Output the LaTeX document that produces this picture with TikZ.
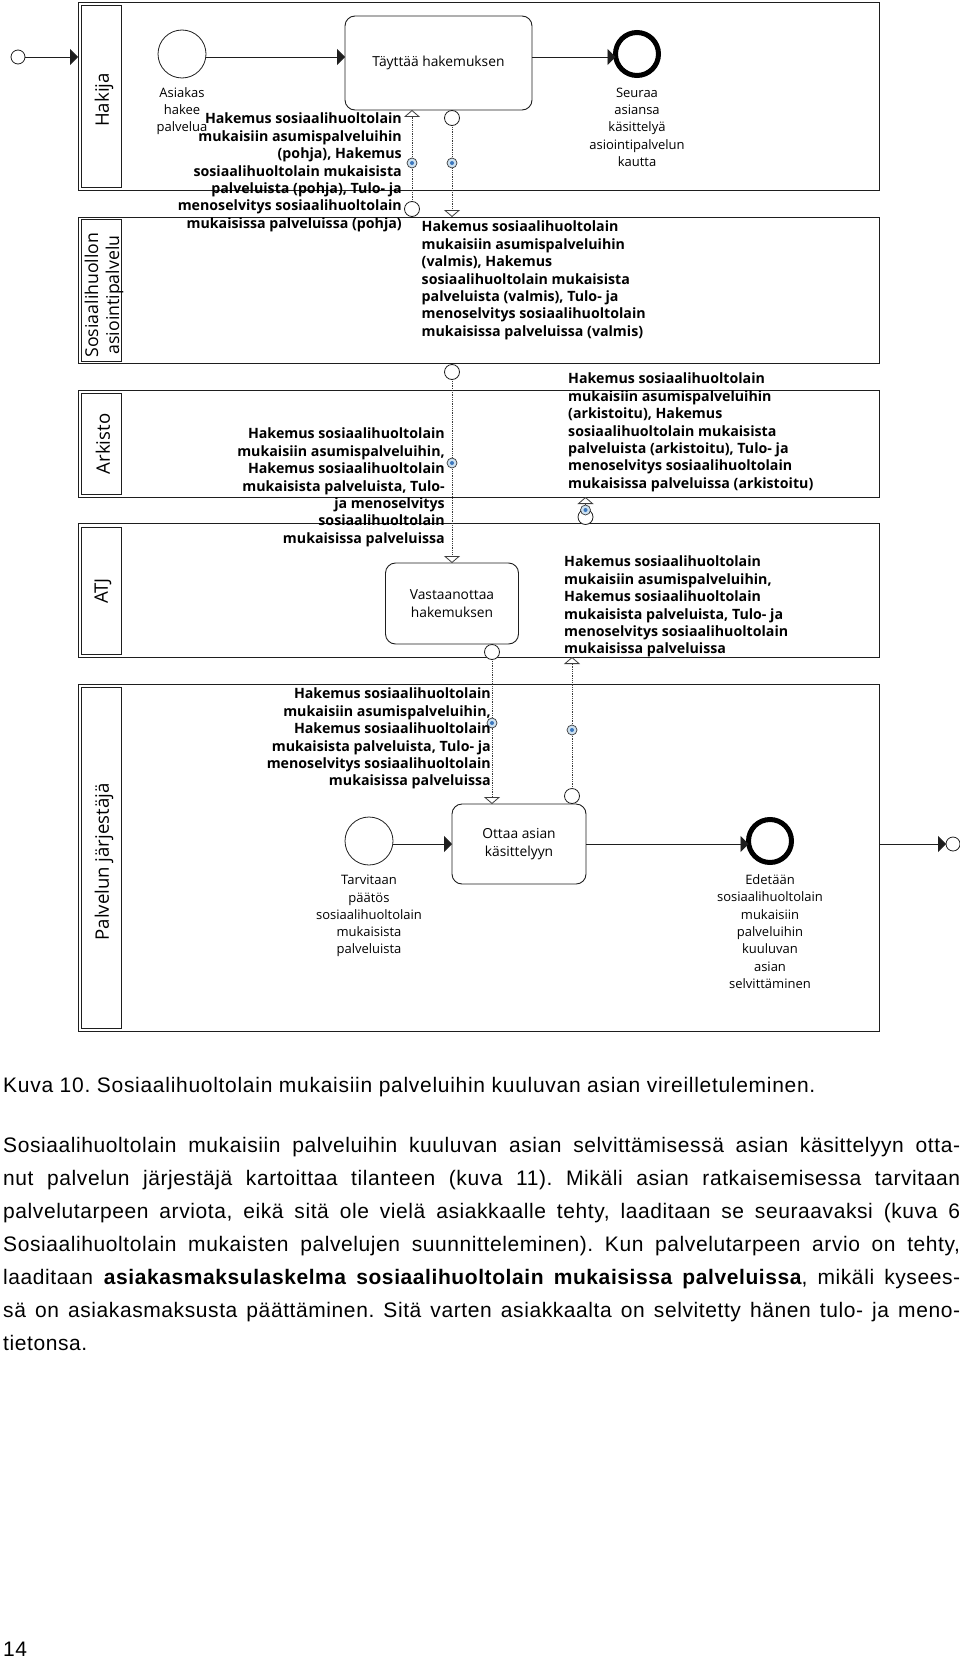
\documentclass[tikz,border=0pt]{standalone}
\usepackage{fontspec}
\setmainfont{Liberation Sans}[LetterSpace=2.8]
\newfontfamily\bpmnfont{Open Sans}
\usetikzlibrary{arrows.meta, positioning, calc}
\definecolor{mydark}{RGB}{30,30,30}
\definecolor{myline}{RGB}{60,60,60}
\definecolor{decofill}{RGB}{205,225,240}
\definecolor{decodot}{RGB}{60,120,190}
\tikzset{
  pool/.style={rectangle, draw=mydark, line width=1pt, minimum width=801pt, outer sep=0pt, inner sep=0pt},
  lane/.style={rectangle, draw=mydark, line width=1pt, minimum width=40pt, outer sep=0pt, inner sep=0pt},
  lanetext/.style={rotate=90, align=center, font=\bpmnfont\fontsize{18.6}{21}\selectfont, inner sep=0pt},
  task/.style={rectangle, draw=mydark, fill=white, rounded corners=10pt, line width=0.9pt, outer sep=0pt, align=center,
    font=\bpmnfont\fontsize{13.8}{17.3}\selectfont},
  startev/.style={circle, draw=mydark, fill=white, minimum size=48pt, line width=0.8pt, inner sep=0pt, outer sep=0pt},
  endev/.style={circle, draw=black, fill=white, minimum size=43pt, line width=5pt, inner sep=0pt, outer sep=0pt},
  port/.style={circle, draw=mydark, fill=white, minimum size=15pt, line width=0.8pt, inner sep=0pt, outer sep=0pt},
  deco/.style={circle, draw=myline, fill=decofill, minimum size=10pt, line width=0.7pt, inner sep=0pt, outer sep=0pt,
    path picture={\fill[decodot] (path picture bounding box.center) circle (2pt);}},
  evtext/.style={align=center, inner sep=0pt, font=\bpmnfont\fontsize{13}{17.3}\selectfont},
  msgtext/.style={inner sep=0pt, font=\bpmnfont\bfseries\fontsize{14.2}{17.4}\selectfont},
  pagetext/.style={inner sep=0pt, font=\fontsize{21}{33}\selectfont\frenchspacing},
  arrow/.style={-{Triangle[length=8pt,width=16pt]}, line width=0.9pt, color=mydark},
  msgflow/.style={-{Triangle[open,fill=white,length=7pt,width=16pt]}, densely dotted, line width=0.8pt, color=myline}
}
\begin{document}
\begin{tikzpicture}[x=1pt, y=-1pt]
  \useasboundingbox (0,0) rectangle (960,1659);

  % Pools
  \node[pool, anchor=north west, minimum height=187pt] (hakija) at (78,3) {};
  \node[pool, minimum height=146pt, below=27pt of hakija.south west, anchor=north west] (sosi) {};
  \node[pool, minimum height=107pt, below=27pt of sosi.south west, anchor=north west] (arkisto) {};
  \node[pool, minimum height=134pt, below=26pt of arkisto.south west, anchor=north west] (atj) {};
  \node[pool, minimum height=347pt, below=27pt of atj.south west, anchor=north west] (palvelu) {};

  % Lane titles
  \node[lane, minimum height=181pt, anchor=north west] (hakijalane) at (81,6) {};
  \node[lane, minimum height=142pt, anchor=north west] (sosilane) at (81,219) {};
  \node[lane, minimum height=101pt, anchor=north west] (arkistolane) at (81,393) {};
  \node[lane, minimum height=127pt, anchor=north west] (atjlane) at (81,527) {};
  \node[lane, minimum height=341pt, anchor=north west] (palvelulane) at (81,687) {};
  \node[lanetext] (hakijatext) at (104,100) {Hakija};
  \node[lanetext, font=\bpmnfont\fontsize{17.7}{21}\selectfont] (sositext) at (104,295) {Sosiaalihuollon\\asiointipalvelu};
  \node[lanetext] (arkistotext) at (103,444) {Arkisto};
  \node[lanetext] (atjtext) at (103,591) {ATJ};
  \node[lanetext] (palvelutext) at (104,862) {Palvelun järjestäjä};

  % Tasks and events
  \node[port, minimum size=14pt] (startin) at (18,57) {};
  \node[startev] (asiakas) at (182,54) {};
  \node[task, minimum width=187pt, minimum height=94pt, anchor=north west] (taytta) at (345,16) {Täyttää hakemuksen\strut};
  \node[endev] (seuraa) at (637,54) {};
  \node[task, minimum width=133pt, minimum height=81pt, anchor=north west] (vast) at (385.5,563) {Vastaanottaa\\hakemuksen};
  \node[startev] (tarvitaan) at (369,841) {};
  \node[task, minimum width=134pt, minimum height=80pt, anchor=north west] (ottaa) at (452,804) {Ottaa asian\\käsittelyyn};
  \node[endev] (edetaan) at (770,841) {};
  \node[port, minimum size=14pt] (exitout) at (953,844) {};

  % Sequence flows
  \draw[arrow] (startin.east) -- (startin -| hakija.west);
  \draw[arrow] (startin -| asiakas.east) -- (startin -| taytta.west);
  \draw[arrow] (startin -| taytta.east) -- (startin -| seuraa.west);
  \draw[arrow] (ottaa -| tarvitaan.east) -- (ottaa.west);
  \draw[arrow] (ottaa.east) -- (ottaa -| edetaan.west);
  \draw[arrow] (ottaa -| palvelu.east) -- (exitout.west);

  % Message flows
  \coordinate (portg) at (412,209);
  \coordinate (portk) at (452,118);
  \coordinate (porth) at (452,372);
  \coordinate (portv) at (492,652);
  \coordinate (porto) at (572,796);
  \coordinate (porta) at (585.5,517);
  \draw[msgflow] (portg) -- (portg |- taytta.south);
  \draw[msgflow] (portk) -- (portk |- sosi.north);
  \draw[msgflow] (porth) -- (porth |- vast.north);
  \draw[msgflow] (portv) -- (portv |- ottaa.north);
  \draw[msgflow] (porto) -- (porto |- atj.south);
  \draw[msgflow] (porta) -- (porta |- arkisto.south);
  \node[port] (pg) at (portg) {};
  \node[port] (pk) at (portk) {};
  \node[port] (ph) at (porth) {};
  \node[port] (pv) at (portv) {};
  \node[port] (po) at (porto) {};
  \node[port] (pa) at (porta) {};
  \node[deco] (dg) at (412,163) {};
  \node[deco] (dk) at (452,163) {};
  \node[deco] (dh) at (452,463) {};
  \node[deco] (dv) at (492,723) {};
  \node[deco] (do) at (572,730) {};
  \node[deco] (da) at (585.5,510) {};

  % Event labels
  \node[evtext, below=9pt of asiakas] (asiakastext) {Asiakas\\hakee\\palvelua};
  \node[evtext, below=12pt of seuraa] (seuraatext) {Seuraa\\asiansa\\käsittelyä\\asiointipalvelun\\kautta};
  \node[evtext, below=10pt of tarvitaan] (tarvitaantext) {Tarvitaan\\päätös\\sosiaalihuoltolain\\mukaisista\\palveluista};
  \node[evtext, below=12pt of edetaan] (edetaantext) {Edetään\\sosiaalihuoltolain\\mukaisiin\\palveluihin\\kuuluvan\\asian\\selvittäminen};

  % Message labels
  \node[msgtext, align=right, anchor=north east] (pohja) at (402,113) {Hakemus sosiaalihuoltolain\\mukaisiin asumispalveluihin\\(pohja), Hakemus\\sosiaalihuoltolain mukaisista\\palveluista (pohja), Tulo- ja\\menoselvitys sosiaalihuoltolain\\mukaisissa palveluissa (pohja)};
  \node[msgtext, align=left, anchor=north west] (valmis) at (421.5,221) {Hakemus sosiaalihuoltolain\\mukaisiin asumispalveluihin\\(valmis), Hakemus\\sosiaalihuoltolain mukaisista\\palveluista (valmis), Tulo- ja\\menoselvitys sosiaalihuoltolain\\mukaisissa palveluissa (valmis)};
  \node[msgtext, align=right, anchor=north east] (saapuva) at (445,428) {Hakemus sosiaalihuoltolain\\mukaisiin asumispalveluihin,\\Hakemus sosiaalihuoltolain\\mukaisista palveluista, Tulo-\\ja menoselvitys\\sosiaalihuoltolain\\mukaisissa palveluissa};
  \node[msgtext, align=left, anchor=north west] (arkistoitu) at (568,373) {Hakemus sosiaalihuoltolain\\mukaisiin asumispalveluihin\\(arkistoitu), Hakemus\\sosiaalihuoltolain mukaisista\\palveluista (arkistoitu), Tulo- ja\\menoselvitys sosiaalihuoltolain\\mukaisissa palveluissa (arkistoitu)};
  \node[msgtext, align=left, anchor=north west] (lahteva) at (564,556) {Hakemus sosiaalihuoltolain\\mukaisiin asumispalveluihin,\\Hakemus sosiaalihuoltolain\\mukaisista palveluista, Tulo- ja\\menoselvitys sosiaalihuoltolain\\mukaisissa palveluissa};
  \node[msgtext, align=right, anchor=north east] (tuleva) at (491,688) {Hakemus sosiaalihuoltolain\\mukaisiin asumispalveluihin,\\Hakemus sosiaalihuoltolain\\mukaisista palveluista, Tulo- ja\\menoselvitys sosiaalihuoltolain\\mukaisissa palveluissa};

  % Page text
  \node[pagetext, anchor=base west] (kuva) at (3,1092) {\addfontfeature{LetterSpace=3.4}Kuva 10. Sosiaalihuoltolain mukaisiin palveluihin kuuluvan asian vireilletuleminen.};
  \node[pagetext, anchor=north west, text width=957pt, align=justify] (leipa) at (3,1137) {\sloppy
    Sosiaalihuoltolain mukaisiin palveluihin kuuluvan asian selvittämisessä asian käsittelyyn otta-\linebreak
    nut palvelun järjestäjä kartoittaa tilanteen (kuva 11). Mikäli asian ratkaisemisessa tarvitaan\linebreak
    palvelutarpeen arviota, eikä sitä ole vielä asiakkaalle tehty, laaditaan se seuraavaksi (kuva 6\linebreak
    Sosiaalihuoltolain mukaisten palvelujen suunnitteleminen). Kun palvelutarpeen arvio on tehty,\linebreak
    laaditaan \textbf{asiakasmaksulaskelma sosiaalihuoltolain mukaisissa palveluissa}, mikäli kysees-\linebreak
    sä on asiakasmaksusta päättäminen. Sitä varten asiakkaalta on selvitetty hänen tulo- ja meno-\linebreak
    tietonsa.};
  \node[pagetext, anchor=base west] (sivu) at (3,1656) {14};
\end{tikzpicture}
\end{document}
